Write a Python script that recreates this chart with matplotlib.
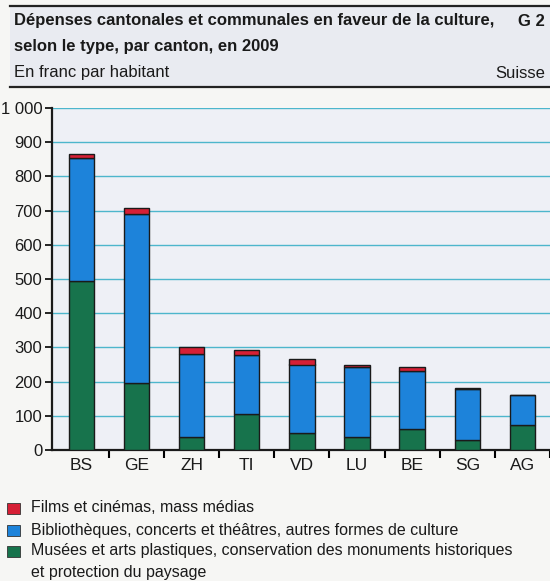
import matplotlib.pyplot as plt
from matplotlib.patches import Rectangle
from matplotlib.ticker import FuncFormatter
import numpy as np

plt.rcParams['font.family'] = ['Liberation Sans', 'DejaVu Sans']

# data (francs per inhabitant)
cantons = ["BS", "GE", "ZH", "TI", "VD", "LU", "BE", "SG", "AG"]
musees = [493, 196, 39, 106, 50, 38, 62, 30, 72]
biblio = [361, 493, 243, 173, 200, 205, 168, 148, 88]
films = [12, 20, 18, 14, 15, 7, 12, 3, 2]

legend_labels = [
    "Films et cinémas, mass médias",
    "Bibliothèques, concerts et théâtres, autres formes de culture",
    "Musées et arts plastiques, conservation des monuments historiques",
]
legend_extra = "et protection du paysage"
c_green = "#17734c"
c_blue = "#1d83da"
c_red = "#d61f35"
colors = [c_red, c_blue, c_green]

W, H = 550, 581
fig = plt.figure(figsize=(W / 100, H / 100), dpi=100)
fig.patch.set_facecolor("#f6f6f4")

# header box
fig.patches.append(Rectangle((10 / W, 1 - 87 / H), 540 / W, 81 / H,
                             transform=fig.transFigure, facecolor="#e9ebf1",
                             edgecolor="none", zorder=0))
for yy in (6, 87):
    fig.add_artist(plt.Line2D([10 / W, 1], [1 - yy / H] * 2, transform=fig.transFigure,
                              color="#222222", lw=1.6))

tc = "#1a1a1a"
fig.text(14 / W, 1 - 21 / H, "Dépenses cantonales et communales en faveur de la culture,",
         fontsize=12, fontweight="bold", va="center", color=tc)
fig.text(545 / W, 1 - 21 / H, "G 2", fontsize=12, fontweight="bold",
         va="center", ha="right", color=tc)
fig.text(14 / W, 1 - 46 / H, "selon le type, par canton, en 2009",
         fontsize=12, fontweight="bold", va="center", color=tc)
fig.text(14 / W, 1 - 73 / H, "En franc par habitant", fontsize=12,
         va="center", color=tc)
fig.text(545 / W, 1 - 73 / H, "Suisse", fontsize=12, va="center",
         ha="right", color=tc)

ax = fig.add_axes([52 / W, 1 - 450 / H, 498 / W, 342 / H])
ax.set_facecolor("#eef0f6")

x = np.arange(len(cantons))
bw = 0.46
b2 = np.array(musees) + np.array(biblio)
ax.bar(x, musees, bw, color=c_green, edgecolor=tc, lw=1.0, zorder=3)
ax.bar(x, biblio, bw, bottom=musees, color=c_blue, edgecolor=tc, lw=1.0, zorder=3)
ax.bar(x, films, bw, bottom=b2, color=c_red, edgecolor=tc, lw=1.0, zorder=3)

ax.set_ylim(0, 1000)
ax.set_xlim(-0.53, 8.47)
ax.set_yticks(range(0, 1001, 100))
ax.yaxis.set_major_formatter(FuncFormatter(lambda v, p: f"{int(v):,}".replace(",", " ")))
ax.set_xticks(np.arange(len(cantons)) + 0.5)
ax.set_xticklabels([])
ax.set_xticks(x, minor=True)
ax.set_xticklabels(cantons, minor=True, fontsize=12.5, color=tc)
ax.tick_params(axis="x", which="minor", length=0, pad=6)
ax.tick_params(axis="x", which="major", length=6, width=1.5, direction="out")
ax.tick_params(axis="y", length=5, width=1.2, labelsize=12, pad=2, labelcolor=tc)
ax.yaxis.grid(True, color="#4db6cc", lw=1.0, zorder=1)
for s in ("top", "right"):
    ax.spines[s].set_visible(False)
for s in ("left", "bottom"):
    ax.spines[s].set_linewidth(1.6)
    ax.spines[s].set_color(tc)

# legend
ys = [508, 530, 551]
for yy, col, lab in zip(ys, colors, legend_labels):
    fig.patches.append(Rectangle((7 / W, 1 - (yy + 6) / H), 13 / W, 11 / H,
                                 transform=fig.transFigure, facecolor=col,
                                 edgecolor="#333333", lw=0.6))
    fig.text(31 / W, 1 - yy / H, lab, fontsize=11.5, va="center", color=tc)
fig.text(31 / W, 1 - 572 / H, legend_extra, fontsize=11.5, va="center", color=tc)

plt.savefig("out.png", dpi=100, facecolor=fig.get_facecolor())
